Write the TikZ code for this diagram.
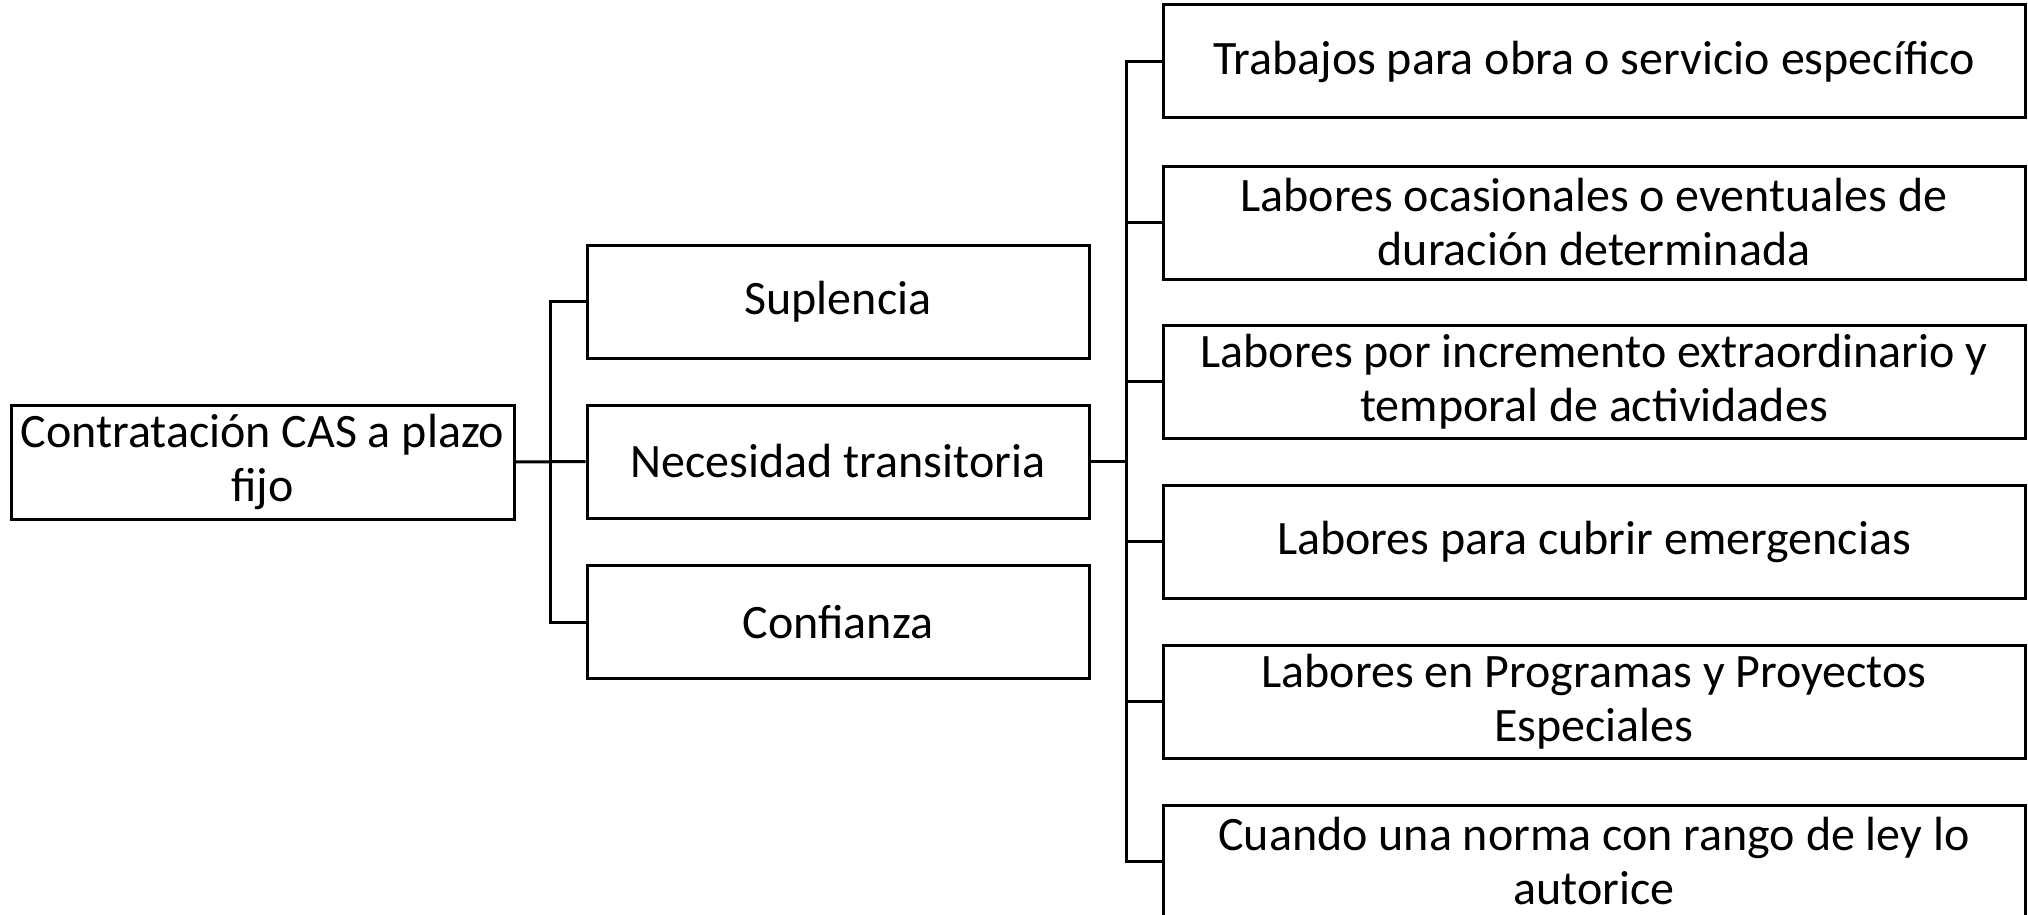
\documentclass[tikz,border=0pt]{standalone}
\usepackage{fontspec}
\setmainfont{Carlito}
\begin{document}
\begin{tikzpicture}[x=0.5pt,y=-0.5pt,
  box/.style={draw=black, line width=1.5pt, inner sep=0pt, align=center,
    font=\fontsize{24}{27}\selectfont, text=black},
  rootbox/.style={box, minimum width=251.5pt, minimum height=57pt},
  midbox/.style={box, minimum width=251pt, minimum height=56.5pt},
  leafbox/.style={box, minimum width=431pt, minimum height=56.5pt},
  conn/.style={draw=black, line width=1.5pt}]
\useasboundingbox (0,0) rectangle (2028,915);
\node[rootbox] (root) at (262.5,462) {Contratación CAS a plazo\\fijo};
\node[midbox] (sup) at (838,301.5) {Suplencia};
\node[midbox] (nec) at (838,461.5) {Necesidad transitoria};
\node[midbox] (conf) at (838,622) {Confianza};
\node[leafbox] (t1) at (1594,61.5) {Trabajos para obra o servicio específico};
\node[leafbox] (t2) at (1594,222.5) {Labores ocasionales o eventuales de\\duración determinada};
\node[leafbox] (t3) at (1594,381.5) {Labores por incremento extraordinario y\\temporal de actividades};
\node[leafbox] (t4) at (1594,541.5) {Labores para cubrir emergencias};
\node[leafbox] (t5) at (1594,701.5) {Labores en Programas y Proyectos\\Especiales};
\node[leafbox] (t6) at (1594,861.5) {Cuando una norma con rango de ley lo\\autorice};
\coordinate (b1) at (550,462);
\coordinate (b2) at (1126,462);
\draw[conn] (root.east) -- (nec.west);
\draw[conn] (sup.west) -- (sup.west -| b1) -- (conf.west -| b1) -- (conf.west);
\draw[conn] (nec.east) -- (nec.east -| b2);
\draw[conn] (t1.west) -- (t1.west -| b2) -- (t6.west -| b2) -- (t6.west);
\draw[conn] (t2.west) -- (t2.west -| b2);
\draw[conn] (t3.west) -- (t3.west -| b2);
\draw[conn] (t4.west) -- (t4.west -| b2);
\draw[conn] (t5.west) -- (t5.west -| b2);
\end{tikzpicture}
\end{document}
